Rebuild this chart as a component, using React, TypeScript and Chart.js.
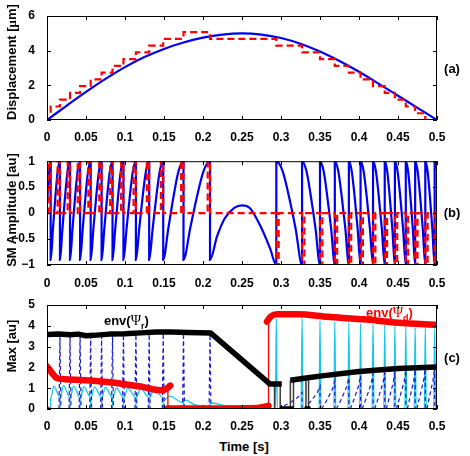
import React, { useEffect, useRef } from "react";
import { Chart, registerables } from "chart.js";

Chart.register(...registerables);

const SANS = '"Liberation Sans", Arial, Helvetica, sans-serif';
const SERIF = '"Liberation Serif", "DejaVu Serif", serif';

const BLUE = "#0000f0";
const RED = "#ff0000";
const CYAN = "#14c8e8";
const DASH_BLUE = "#1a1ad0";
const GREY = "#3c3c3c";

// shared time axis
const timeTicks = [0, 0.05, 0.1, 0.15, 0.2, 0.25, 0.3, 0.35, 0.4, 0.45, 0.5];
const timeTickLabels = ["0", "0.05", "0.1", "0.15", "0.2", "0.25", "0.3", "0.35", "0.4", "0.45", "0.5"];

// fringe instants (forward motion, then backward motion)
const fringeUp = [0.0047, 0.0166, 0.0295, 0.0424, 0.056, 0.07, 0.084, 0.098, 0.114, 0.131, 0.149, 0.175, 0.209];
const fringeDown = [0.294, 0.327, 0.35, 0.369, 0.387, 0.402, 0.418, 0.433, 0.446, 0.46, 0.472, 0.485, 0.497];

// (a) displacement
const dispTicks = [0, 2, 4, 6];
const dispTickLabels = ["0", "2", "4", "6"];
const dispTime = [0, 0.025, 0.05, 0.075, 0.1, 0.125, 0.15, 0.175, 0.2, 0.225, 0.25, 0.275, 0.3, 0.325, 0.35, 0.375, 0.4, 0.425, 0.45, 0.475, 0.5];
const dispActual = [0, 0.82, 1.62, 2.37, 3.05, 3.63, 4.1, 4.47, 4.75, 4.93, 5.0, 4.93, 4.73, 4.4, 3.95, 3.4, 2.78, 2.1, 1.4, 0.7, 0];
const stairUp = [0.39, 0.78, 1.17, 1.56, 1.95, 2.34, 2.73, 3.12, 3.51, 3.9, 4.29, 4.68, 5.07];
const stairDown = [4.68, 4.29, 3.9, 3.51, 3.12, 2.73, 2.34, 1.95, 1.56, 1.17, 0.78, 0.39, 0];

// (b) self-mixing signal
const smTicks = [-1, -0.5, 0, 0.5, 1];
const smTickLabels = ["\u22121", "\u22120.5", "0", "0.5", "1"];
const smStartLevel = 0.2;
const smRiseLevels = [-0.3, 0.3, 0.8]; // at 1/4, 1/2, 3/4 of a forward fringe
const smFallLevels = [0.8, 0.3, -0.3]; // at 1/4, 1/2, 3/4 of a backward fringe
const smForwardLow = -0.9;
const smBackwardLow = -1;
const smTurnTime = [0.218, 0.228, 0.24, 0.25, 0.26, 0.273, 0.286];
const smTurnLevel = [-0.45, -0.1, 0.1, 0.15, 0.1, -0.23, -0.68];
const smEndLevel = 0.85;
const pulseWidth = 0.003;

// (c) maxima and envelopes
const maxTicks = [0, 1, 2, 3, 4, 5];
const maxTickLabels = ["0", "1", "2", "3", "4", "5"];
const envR1T = [0, 0.015, 0.03, 0.04, 0.05, 0.06, 0.08, 0.1, 0.12, 0.14, 0.16, 0.18, 0.21, 0.286, 0.301];
const envR1Y = [3.58, 3.6, 3.57, 3.6, 3.52, 3.54, 3.6, 3.62, 3.66, 3.7, 3.7, 3.68, 3.65, 1.2, 1.2];
const envR2T = [0.312, 0.33, 0.35, 0.4, 0.45, 0.5];
const envR2Y = [1.38, 1.48, 1.58, 1.8, 1.95, 2.02];
const envRFloor = [[0.299, 0.316], [0.331, 0.338]];
const envRDropT = [0.2917, 0.299, 0.312, 0.316, 0.332, 0.3353];
const envRDropY = [1.2, 1.2, 1.38, 1.4, 1.48, 1.5];
const envD1T = [0, 0.006, 0.013, 0.03, 0.077, 0.12, 0.145, 0.152, 0.158];
const envD1Y = [2.05, 1.75, 1.48, 1.42, 1.3, 1.08, 0.9, 0.95, 1.12];
const envD2T = [0.155, 0.27, 0.284];
const envD2Y = [0.02, 0.05, 0.15];
const envD3T = [0.282, 0.287, 0.295, 0.32, 0.36, 0.406, 0.45, 0.5];
const envD3Y = [4.2, 4.45, 4.55, 4.55, 4.43, 4.31, 4.15, 4.05];
const envDDropT = [0, 0.155, 0.284];
const envDDropTop = [2.05, 1.0, 4.2];
const envDDropBottom = [0, 0, 0.15];
const cyanPeakUp = [1.1, 1.12, 1.1, 1.08, 1.06, 1.05, 1.02, 1.0, 0.98, 0.95];
const cyanShoulder = [0.5, 0.55];
const cyanTailT = [0.149, 0.149, 0.157, 0.175, 0.175, 0.175, 0.19, 0.209, 0.209, 0.209, 0.23, 0.26, 0.285, 0.2905];
const cyanTailY = [0, 0.4, 0.62, 0.3, 0, 0.45, 0.2, 0.1, 0, 0.3, 0.15, 0.08, 0.02, 0];
const cyanSpikeDown = [4.35, 4.35, 4.25, 4.2, 4.15, 4.12, 4.08, 4.03, 4.0, 3.96, 3.93, 3.9, 3.88];
const dashSpikeUp = [3.55, 3.55, 3.55, 3.5, 3.5, 3.55, 3.6, 3.6, 3.6, 3.65, 3.65, 3.6];
const dashRampPeak = [0.8, 1.1, 1.35, 1.5, 1.6, 1.7, 1.75, 1.8, 1.85, 1.9, 1.95, 2.0];
const envRLabel = { t: 0.073, v: 4.04 };
const envDLabel = { t: 0.409, v: 4.44 };

const tickFont = { family: SANS, size: 12, weight: "bold" as const };

type P = { x: number; y: number | null };

function labelFor(values: number[], labels: string[], v: number) {
  const i = values.findIndex((t) => Math.abs(t - v) < 1e-9);
  return i >= 0 ? labels[i] : "";
}

function timeAxis(height: number, pad: number) {
  return {
    type: "linear",
    min: 0,
    max: 0.5,
    grid: { display: false },
    border: { display: false },
    afterBuildTicks: (s: any) => {
      s.ticks = timeTicks.map((v) => ({ value: v }));
    },
    afterFit: (s: any) => {
      s.height = height;
    },
    ticks: {
      autoSkip: false,
      maxRotation: 0,
      minRotation: 0,
      padding: pad,
      color: "#000",
      font: tickFont,
      callback: (v: number) => labelFor(timeTicks, timeTickLabels, v),
    },
  };
}

function valueAxis(min: number, max: number, ticks: number[], labels: string[]) {
  return {
    type: "linear",
    min,
    max,
    grid: { display: false },
    border: { display: false },
    afterBuildTicks: (s: any) => {
      s.ticks = ticks.map((v) => ({ value: v }));
    },
    afterFit: (s: any) => {
      s.width = 40;
    },
    ticks: {
      padding: 4,
      color: "#000",
      font: tickFont,
      callback: (v: number) => labelFor(ticks, labels, v),
    },
  };
}

// box round the plot area with inward tick marks on all four sides
const framePlugin = {
  id: "frame",
  afterDraw(chart: any) {
    const { ctx, chartArea: a, scales } = chart;
    ctx.save();
    ctx.strokeStyle = "#000";
    ctx.lineWidth = 1;
    ctx.strokeRect(a.left + 0.5, a.top + 0.5, a.right - a.left - 1, a.bottom - a.top - 1);
    ctx.beginPath();
    scales.x.ticks.forEach((t: any) => {
      const px = Math.round(scales.x.getPixelForValue(t.value)) + 0.5;
      ctx.moveTo(px, a.bottom);
      ctx.lineTo(px, a.bottom - 4);
      ctx.moveTo(px, a.top);
      ctx.lineTo(px, a.top + 4);
    });
    scales.y.ticks.forEach((t: any) => {
      const py = Math.round(scales.y.getPixelForValue(t.value)) + 0.5;
      ctx.moveTo(a.left, py);
      ctx.lineTo(a.left + 4, py);
      ctx.moveTo(a.right, py);
      ctx.lineTo(a.right - 4, py);
    });
    ctx.stroke();
    ctx.restore();
  },
};

function drawEnvLabel(ctx: CanvasRenderingContext2D, px: number, py: number, sub: string, color: string) {
  ctx.save();
  ctx.fillStyle = color;
  ctx.textAlign = "left";
  ctx.textBaseline = "alphabetic";
  let x = px;
  ctx.font = `bold 13px ${SANS}`;
  ctx.fillText("env(", x, py);
  x += ctx.measureText("env(").width;
  ctx.font = `14px ${SERIF}`;
  ctx.fillText("\u03A8", x, py);
  x += ctx.measureText("\u03A8").width;
  ctx.font = `bold 9px ${SANS}`;
  ctx.fillText(sub, x, py + 4);
  x += ctx.measureText(sub).width;
  ctx.font = `bold 13px ${SANS}`;
  ctx.fillText(")", x, py);
  ctx.restore();
}

const envLabelPlugin = {
  id: "envLabels",
  beforeDatasetsDraw(chart: any) {
    const { ctx, scales } = chart;
    drawEnvLabel(ctx, scales.x.getPixelForValue(envRLabel.t), scales.y.getPixelForValue(envRLabel.v), "r", "#000");
    drawEnvLabel(ctx, scales.x.getPixelForValue(envDLabel.t), scales.y.getPixelForValue(envDLabel.v), "d", RED);
  },
};

function baseOptions(padTop: number, xAxisH: number, xPad: number, y: any) {
  return {
    animation: false,
    responsive: false,
    maintainAspectRatio: false,
    devicePixelRatio: 1,
    events: [],
    layout: { autoPadding: false, padding: { left: 7, right: 33, top: padTop, bottom: 0 } },
    plugins: { legend: { display: false }, tooltip: { enabled: false }, title: { display: false } },
    elements: { point: { radius: 0 }, line: { tension: 0 } },
    scales: { x: timeAxis(xAxisH, xPad), y },
  };
}

function zip(ts: number[], ys: number[]): P[] {
  return ts.map((t, i) => ({ x: t, y: ys[i] }));
}

// ---------- (a) ----------
function panelA() {
  const stairs: P[] = [{ x: 0, y: 0 }];
  fringeUp.forEach((t, i) => stairs.push({ x: t, y: stairUp[i] }));
  fringeDown.forEach((t, i) => stairs.push({ x: t, y: stairDown[i] }));
  stairs.push({ x: 0.5, y: 0 });
  return {
    type: "line",
    data: {
      datasets: [
        { data: stairs, stepped: "after", borderColor: RED, borderWidth: 2.2, borderDash: [7, 4], pointRadius: 0 },
        { data: zip(dispTime, dispActual), borderColor: BLUE, borderWidth: 2.2, cubicInterpolationMode: "monotone", pointRadius: 0 },
      ],
    },
    options: baseOptions(16, 30, 2, valueAxis(0, 6, dispTicks, dispTickLabels)),
    plugins: [framePlugin],
  };
}

// ---------- (b) ----------
function panelB() {
  const sig: P[] = [{ x: 0, y: smStartLevel }];
  fringeUp.forEach((t, i) => {
    if (i > 0) {
      const a = fringeUp[i - 1];
      smRiseLevels.forEach((v, k) => sig.push({ x: a + ((t - a) * (k + 1)) / 4, y: v }));
    }
    sig.push({ x: t, y: 1 });
    sig.push({ x: t, y: smForwardLow });
  });
  smTurnTime.forEach((t, k) => sig.push({ x: t, y: smTurnLevel[k] }));
  fringeDown.forEach((t, i) => {
    sig.push({ x: t, y: smBackwardLow });
    sig.push({ x: t, y: 1 });
    if (i < fringeDown.length - 1) {
      const b = fringeDown[i + 1];
      smFallLevels.forEach((v, k) => sig.push({ x: t + ((b - t) * (k + 1)) / 4, y: v }));
    }
  });
  sig.push({ x: 0.5, y: smEndLevel });

  const pulses: P[] = [{ x: 0, y: 0 }];
  fringeUp.forEach((t) => {
    const a = Math.max(0, t - pulseWidth);
    pulses.push({ x: a, y: 0 }, { x: a, y: 1 }, { x: t, y: 1 }, { x: t, y: 0 });
  });
  fringeDown.forEach((t) => {
    const b = Math.min(0.5, t + pulseWidth);
    pulses.push({ x: t, y: 0 }, { x: t, y: -1 }, { x: b, y: -1 }, { x: b, y: 0 });
  });
  pulses.push({ x: 0.5, y: 0 });

  return {
    type: "line",
    data: {
      datasets: [
        { data: pulses, borderColor: RED, borderWidth: 2.2, borderDash: [7, 4], pointRadius: 0 },
        { data: sig, borderColor: BLUE, borderWidth: 2.2, cubicInterpolationMode: "monotone", pointRadius: 0 },
      ],
    },
    options: baseOptions(10, 25, 3, valueAxis(-1, 1, smTicks, smTickLabels)),
    plugins: [framePlugin],
  };
}

// ---------- (c) ----------
function panelC() {
  const gap = (x: number): P => ({ x, y: null });

  const envD: P[] = [...zip(envD1T, envD1Y), gap(0.1565), ...zip(envD2T, envD2Y), gap(0.283), ...zip(envD3T, envD3Y)];
  const envR: P[] = [...zip(envR1T, envR1Y), gap(0.31)];
  envRFloor.forEach(([a, b]) => envR.push({ x: a, y: 0 }, { x: b, y: 0 }, gap(b)));
  envR.push(...zip(envR2T, envR2Y));

  const redDrops: P[] = [];
  envDDropT.forEach((t, i) => redDrops.push({ x: t, y: envDDropBottom[i] }, { x: t, y: envDDropTop[i] }, gap(t)));
  const greyDrops: P[] = [];
  envRDropT.forEach((t, i) => greyDrops.push({ x: t, y: 0 }, { x: t, y: envRDropY[i] }, gap(t)));

  const dashed: P[] = [];
  fringeUp.slice(1).forEach((t, i) => {
    dashed.push({ x: t - 0.0012, y: 0 }, { x: t, y: dashSpikeUp[i] }, { x: t + 0.0012, y: 0 }, gap(t + 0.0012));
  });
  fringeDown.slice(0, -1).forEach((a, i) => {
    const b = fringeDown[i + 1];
    const p = dashRampPeak[i];
    dashed.push(
      { x: a + 0.002, y: 0 },
      { x: a + (b - a) * 0.5, y: 0.35 * p },
      { x: a + (b - a) * 0.85, y: 0.72 * p },
      { x: b, y: p },
      { x: b, y: 0 },
      gap(b)
    );
  });

  const cyan: P[] = [{ x: 0, y: 0 }, { x: fringeUp[0], y: 0 }];
  cyanPeakUp.forEach((peak, i) => {
    const a = fringeUp[i];
    const b = fringeUp[i + 1];
    cyan.push(
      { x: a, y: 0 },
      { x: a, y: cyanShoulder[0] },
      { x: a + (b - a) * 0.35, y: peak },
      { x: b, y: cyanShoulder[1] },
      { x: b, y: 0 }
    );
  });
  cyan.push(...zip(cyanTailT, cyanTailY));
  fringeDown.forEach((t, i) => {
    cyan.push({ x: t - 0.0012, y: 0 }, { x: t, y: cyanSpikeDown[i] }, { x: Math.min(0.5, t + 0.0012), y: 0 });
  });
  cyan.push({ x: 0.5, y: 0 });

  return {
    type: "line",
    data: {
      datasets: [
        { data: [{ x: 0, y: 0 }], showLine: false, pointRadius: 2.5, pointBackgroundColor: RED, pointBorderColor: RED },
        { data: envD, borderColor: RED, borderWidth: 6.5, borderCapStyle: "round", borderJoinStyle: "round", cubicInterpolationMode: "monotone" },
        { data: envR, borderColor: "#000", borderWidth: 5.5, borderCapStyle: "butt", borderJoinStyle: "round" },
        { data: redDrops, borderColor: RED, borderWidth: 1.3 },
        { data: greyDrops, borderColor: GREY, borderWidth: 1.5 },
        { data: dashed, borderColor: DASH_BLUE, borderWidth: 1.2, borderDash: [4, 3] },
        { data: cyan, borderColor: CYAN, borderWidth: 1.3, cubicInterpolationMode: "monotone" },
      ],
    },
    options: baseOptions(15, 21, 2, valueAxis(0, 5, maxTicks, maxTickLabels)),
    plugins: [envLabelPlugin, framePlugin],
  };
}

const textStyle: React.CSSProperties = {
  position: "absolute",
  font: `bold 13px ${SANS}`,
  color: "#000",
  whiteSpace: "nowrap",
  lineHeight: 1,
  transform: "translate(-50%, -50%)",
};
const yTitleStyle: React.CSSProperties = { ...textStyle, transform: "translate(-50%, -50%) rotate(-90deg)" };

export default function App() {
  const refA = useRef<HTMLCanvasElement>(null);
  const refB = useRef<HTMLCanvasElement>(null);
  const refC = useRef<HTMLCanvasElement>(null);

  useEffect(() => {
    const charts = [
      new Chart(refA.current as HTMLCanvasElement, panelA() as any),
      new Chart(refB.current as HTMLCanvasElement, panelB() as any),
      new Chart(refC.current as HTMLCanvasElement, panelC() as any),
    ];
    return () => charts.forEach((c) => c.destroy());
  }, []);

  const canvasStyle = (top: number): React.CSSProperties => ({ position: "absolute", left: 0, top, display: "block" });

  return (
    <div style={{ position: "absolute", left: 0, top: 0, width: 470, height: 456, background: "#fff", overflow: "hidden" }}>
      <canvas ref={refA} width={470} height={150} style={canvasStyle(0)} />
      <canvas ref={refB} width={470} height={140} style={canvasStyle(150)} />
      <canvas ref={refC} width={470} height={140} style={canvasStyle(290)} />

      <div style={{ ...yTitleStyle, left: 11, top: 62 }}>
        Displacement [<span style={{ fontFamily: SERIF }}>{"\u03BC"}</span>m]
      </div>
      <div style={{ ...yTitleStyle, left: 11, top: 210 }}>SM Amplitude [au]</div>
      <div style={{ ...yTitleStyle, left: 11, top: 346 }}>Max [au]</div>

      <div style={{ ...textStyle, left: 452, top: 68 }}>(a)</div>
      <div style={{ ...textStyle, left: 452, top: 212 }}>(b)</div>
      <div style={{ ...textStyle, left: 452, top: 357 }}>(c)</div>

      <div style={{ ...textStyle, left: 244, top: 446 }}>Time [s]</div>
    </div>
  );
}
